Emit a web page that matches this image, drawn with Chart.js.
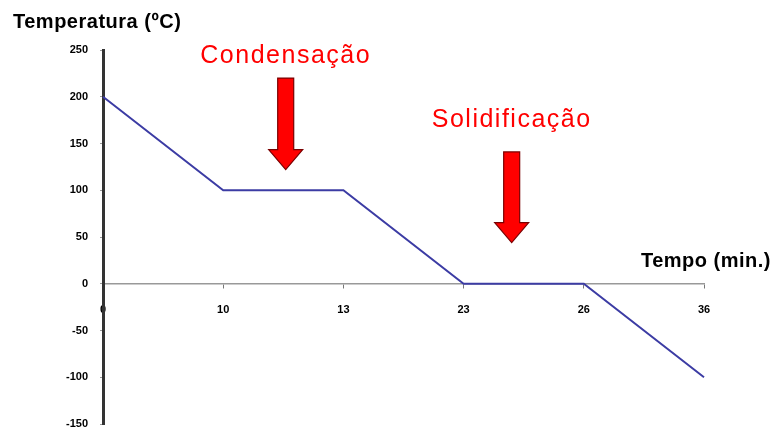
<!DOCTYPE html>
<html>
<head>
<meta charset="utf-8">
<script src="https://cdn.jsdelivr.net/npm/chart.js@4.4.1/dist/chart.umd.min.js"></script>
<style>
  html, body { margin: 0; padding: 0; background: #fff; }
  #wrap { width: 772px; height: 435px; }
</style>
</head>
<body>
<div id="wrap"><canvas id="curve"></canvas></div>
<script>
var tempos = ['0', '10', '13', '23', '26', '36'];
var temperaturas = [200, 100, 100, 0, 0, -100];
var yTicks = [-150, -100, -50, 0, 50, 100, 150, 200, 250];

// red arrows with their labels, placed in data units (x = category index)
var notes = [
  { text: 'Condensação', x: 1.52, textY: 243, top: 220, tip: 122 },
  { text: 'Solidificação', x: 3.4, textY: 175, top: 141, tip: 44 }
];

var extras = {
  id: 'extras',
  afterDraw: function (chart) {
    var ctx = chart.ctx;
    var xs = chart.scales.x, ys = chart.scales.y;
    ctx.save();

    ctx.fillStyle = '#000';
    ctx.font = 'bold 20px Arial, "Liberation Sans", sans-serif';
    ctx.letterSpacing = '0.5px';
    ctx.textBaseline = 'middle';
    ctx.textAlign = 'left';
    ctx.fillText('Temperatura (ºC)', 13, 22);
    ctx.textAlign = 'right';
    ctx.fillText('Tempo (min.)', 771, 261);

    notes.forEach(function (n) {
      var cx = xs.getPixelForValue(n.x);
      ctx.fillStyle = '#ff0000';
      ctx.font = '25px Arial, "Liberation Sans", sans-serif';
      ctx.letterSpacing = '1.5px';
      ctx.textAlign = 'center';
      ctx.fillText(n.text, cx, ys.getPixelForValue(n.textY));
      ctx.letterSpacing = '0px';

      var top = ys.getPixelForValue(n.top);
      var tip = ys.getPixelForValue(n.tip);
      var neck = tip - 20;
      ctx.beginPath();
      ctx.moveTo(cx - 8, top);
      ctx.lineTo(cx + 8, top);
      ctx.lineTo(cx + 8, neck);
      ctx.lineTo(cx + 17, neck);
      ctx.lineTo(cx, tip);
      ctx.lineTo(cx - 17, neck);
      ctx.lineTo(cx - 8, neck);
      ctx.closePath();
      ctx.fillStyle = '#ff0000';
      ctx.fill();
      ctx.strokeStyle = '#7a0000';
      ctx.lineWidth = 1.2;
      ctx.stroke();
    });
    ctx.restore();
  }
};

new Chart(document.getElementById('curve'), {
  type: 'line',
  data: {
    labels: tempos,
    datasets: [{
      data: temperaturas,
      borderColor: '#3c3ca4',
      borderWidth: 2,
      pointRadius: 0,
      tension: 0,
      fill: false
    }]
  },
  options: {
    responsive: true,
    maintainAspectRatio: false,
    animation: false,
    layout: { padding: { top: 50, right: 68, bottom: 11, left: 0 } },
    plugins: { legend: { display: false }, tooltip: { enabled: false } },
    scales: {
      x: {
        type: 'category',
        offset: false,
        position: { y: 0 },
        afterFit: function (s) { s.height = 0; s.paddingLeft = 0; s.paddingRight = 0; },
        grid: { drawOnChartArea: false, drawTicks: true, tickLength: 4, color: '#777' },
        border: { color: '#999', width: 1.5 },
        ticks: {
          color: '#000',
          padding: 16,
          maxRotation: 0,
          font: { family: 'Arial, "Liberation Sans", sans-serif', size: 11, weight: 'bold' }
        }
      },
      y: {
        min: -150,
        max: 250,
        afterFit: function (s) { s.width = 103; s.paddingTop = 0; s.paddingBottom = 0; },
        afterBuildTicks: function (s) { s.ticks = yTicks.map(function (v) { return { value: v }; }); },
        grid: { drawOnChartArea: false, drawTicks: true, tickLength: 3, color: '#999' },
        border: { color: '#333', width: 3 },
        ticks: {
          color: '#000',
          padding: 12,
          font: { family: 'Arial, "Liberation Sans", sans-serif', size: 11, weight: 'bold' }
        }
      }
    }
  },
  plugins: [extras]
});
</script>
</body>
</html>
